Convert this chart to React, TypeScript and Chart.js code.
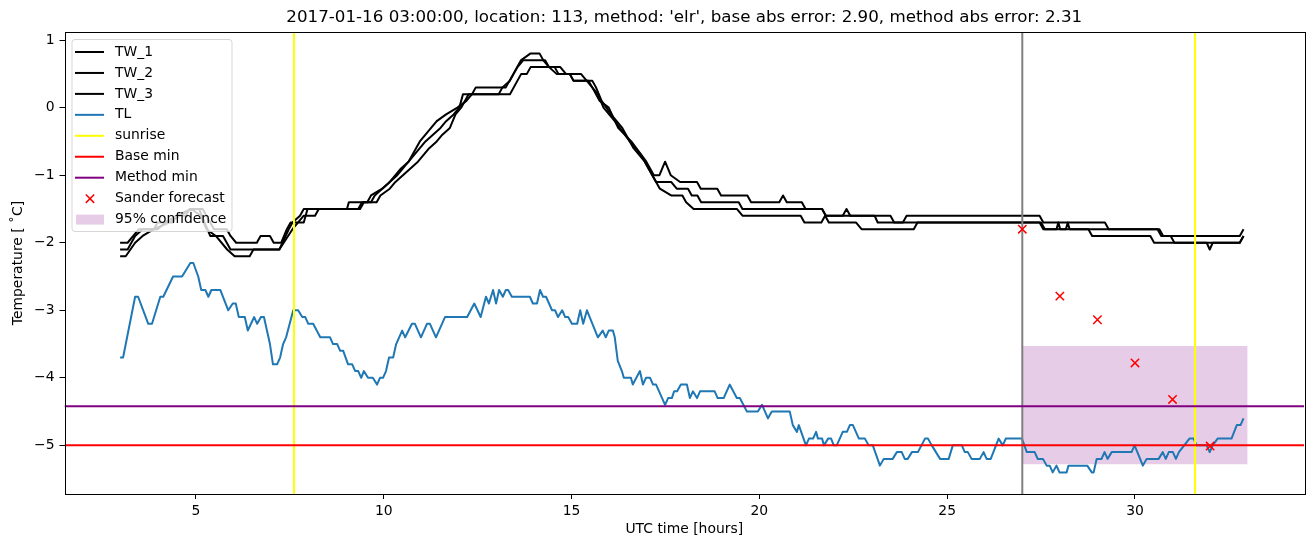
import React, { useEffect, useRef } from "react";
import { Chart, registerables } from "chart.js";

Chart.register(...registerables);

const titleText =
  "2017-01-16 03:00:00, location: 113, method: 'elr', base abs error: 2.90, method abs error: 2.31";
const xAxisTitle = "UTC time [hours]";
const yAxisTitle = "Temperature [ \u02DAC]";

const xTicks = [5, 10, 15, 20, 25, 30];
const yTicks = [1, 0, -1, -2, -3, -4, -5];
const xRange = [1.5, 34.5];
const yRange = [-5.72, 1.12];

const tlTimes = [
  2.98, 3.06, 3.38, 3.46, 3.73, 3.83, 4.05, 4.13, 4.39, 4.63,
  4.85, 4.93, 5.06, 5.14, 5.25, 5.33, 5.41, 5.65, 5.86, 5.98,
  6.06, 6.14, 6.3, 6.38, 6.55, 6.63, 6.73, 6.81, 6.97, 7.05,
  7.16, 7.24, 7.32, 7.4, 7.59, 7.72, 7.83, 7.91, 7.99, 8.12,
  8.31, 8.57, 8.65, 8.76, 8.84, 8.92, 9.05, 9.16, 9.24, 9.32,
  9.4, 9.47, 9.58, 9.71, 9.82, 9.9, 9.98, 10.06, 10.14, 10.25,
  10.33, 10.49, 10.57, 10.75, 10.83, 10.99, 11.15, 11.23, 11.39, 11.63,
  12.22, 12.41, 12.58, 12.72, 12.8, 12.91, 12.99, 13.07, 13.17, 13.25,
  13.31, 13.41, 13.89, 13.97, 14.08, 14.16, 14.24, 14.32, 14.48, 14.56,
  14.64, 14.75, 14.83, 14.91, 15.01, 15.15, 15.23, 15.31, 15.41, 15.7,
  15.83, 15.91, 15.99, 16.1, 16.15, 16.23, 16.34, 16.39, 16.58, 16.63,
  16.82, 16.9, 16.98, 17.09, 17.17, 17.25, 17.49, 17.57, 17.67, 17.73,
  17.81, 17.91, 18.07, 18.15, 18.23, 18.34, 18.42, 18.81, 18.89, 19.05,
  19.21, 19.4, 19.48, 19.67, 19.96, 20.07, 20.23, 20.33, 20.81, 20.89,
  21.0, 21.05, 21.24, 21.32, 21.43, 21.51, 21.56, 21.67, 21.72, 21.83,
  21.91, 21.98, 22.06, 22.22, 22.33, 22.41, 22.49, 22.65, 22.81, 22.91,
  23.02, 23.21, 23.31, 23.55, 23.66, 23.79, 23.87, 23.95, 24.06, 24.22,
  24.41, 24.49, 24.59, 24.81, 25.04, 25.15, 25.39, 25.47, 25.55, 25.65,
  25.87, 25.97, 26.05, 26.16, 26.37, 26.48, 26.56, 26.99, 27.12, 27.33,
  27.41, 27.55, 27.65, 27.73, 27.81, 27.91, 27.99, 28.18, 28.23, 28.73,
  28.85, 28.9, 28.98, 29.11, 29.19, 29.27, 29.38, 29.91, 29.99, 30.21,
  30.31, 30.63, 30.74, 30.82, 30.9, 31.01, 31.09, 31.17, 31.45, 31.56,
  31.64, 31.91, 31.99, 32.07, 32.2, 32.57, 32.71, 32.81, 32.89,
];
const tlValues = [
  -3.7, -3.7, -2.8, -2.8, -3.2, -3.2, -2.8, -2.8, -2.5, -2.5,
  -2.3, -2.3, -2.5, -2.7, -2.7, -2.8, -2.7, -2.7, -3.0, -2.9,
  -2.9, -3.1, -3.1, -3.3, -3.1, -3.2, -3.1, -3.1, -3.5, -3.8,
  -3.8, -3.7, -3.5, -3.4, -3.0, -3.0, -3.1, -3.1, -3.2, -3.2,
  -3.4, -3.4, -3.5, -3.5, -3.6, -3.6, -3.8, -3.8, -3.9, -3.9,
  -4.0, -3.9, -4.0, -4.0, -4.1, -4.0, -4.0, -3.9, -3.7, -3.7,
  -3.5, -3.3, -3.4, -3.2, -3.2, -3.4, -3.2, -3.2, -3.4, -3.1,
  -3.1, -2.9, -3.1, -2.8, -2.9, -2.7, -2.9, -2.7, -2.8, -2.7,
  -2.7, -2.8, -2.8, -2.9, -2.9, -2.7, -2.8, -2.8, -3.0, -3.0,
  -3.1, -3.0, -3.1, -3.1, -3.2, -3.2, -3.0, -3.2, -3.0, -3.4,
  -3.3, -3.4, -3.3, -3.3, -3.4, -3.75, -3.9, -4.0, -4.0, -4.1,
  -3.9, -4.1, -4.0, -4.0, -4.1, -4.1, -4.4, -4.3, -4.3, -4.2,
  -4.2, -4.1, -4.1, -4.3, -4.2, -4.3, -4.2, -4.2, -4.3, -4.3,
  -4.1, -4.3, -4.3, -4.5, -4.5, -4.4, -4.6, -4.5, -4.5, -4.7,
  -4.8, -4.7, -5.0, -4.9, -4.9, -4.8, -4.9, -4.9, -5.0, -4.9,
  -4.9, -5.0, -5.0, -4.8, -4.8, -4.7, -4.7, -4.9, -4.9, -5.0,
  -5.0, -5.3, -5.2, -5.2, -5.1, -5.1, -5.2, -5.2, -5.1, -5.1,
  -4.9, -4.9, -5.0, -5.2, -5.2, -5.0, -5.0, -5.1, -5.1, -5.2,
  -5.2, -5.1, -5.2, -5.2, -4.9, -5.0, -4.9, -4.9, -5.1, -5.1,
  -5.2, -5.2, -5.3, -5.3, -5.4, -5.3, -5.4, -5.4, -5.3, -5.3,
  -5.4, -5.4, -5.2, -5.2, -5.1, -5.2, -5.1, -5.1, -5.0, -5.3,
  -5.2, -5.2, -5.1, -5.2, -5.1, -5.1, -5.2, -5.1, -4.9, -4.9,
  -5.0, -5.0, -5.1, -5.0, -4.9, -4.9, -4.7, -4.7, -4.6,
];

const tw1Times = [
  2.98, 3.18, 3.33, 3.48, 3.88, 3.98, 4.38, 4.48, 4.73, 4.83,
  5.18, 5.28, 5.38, 5.48, 5.82, 5.92, 6.07, 6.62, 6.72, 6.97,
  7.07, 7.27, 7.42, 7.52, 7.87, 7.97, 9.02, 9.07, 9.56, 9.66,
  9.96, 10.16, 10.36, 10.51, 10.66, 10.76, 10.86, 10.96, 11.11, 11.26,
  11.41, 11.66, 11.96, 12.2, 12.35, 12.45, 13.25, 13.35, 13.55, 13.65,
  13.9, 14.15, 14.25, 14.4, 14.7, 14.85, 15.25, 15.4, 15.55, 15.75,
  15.99, 16.24, 16.59, 16.99, 17.19, 17.34, 17.49, 17.64, 17.89, 18.34,
  18.44, 18.88, 18.98, 19.68, 19.78, 20.53, 20.63, 20.73, 21.13, 21.23,
  21.67, 21.77, 22.22, 22.32, 22.42, 23.07, 23.15, 23.82, 23.92, 27.46,
  27.56, 29.2, 29.3, 30.65, 30.75, 32.79, 32.89,
];
const tw1Values = [
  -2.0, -2.0, -1.9, -1.8, -1.8, -1.7, -1.7, -1.6, -1.6, -1.5,
  -1.5, -1.6, -1.7, -1.8, -1.8, -1.9, -2.0, -2.0, -1.9, -1.9,
  -2.0, -2.0, -1.8, -1.7, -1.7, -1.5, -1.5, -1.4, -1.4, -1.3,
  -1.2, -1.1, -1.0, -0.9, -0.8, -0.7, -0.6, -0.5, -0.4, -0.3,
  -0.2, -0.1, 0.0, 0.1, 0.2, 0.3, 0.3, 0.4, 0.6, 0.7,
  0.8, 0.8, 0.7, 0.6, 0.6, 0.5, 0.5, 0.4, 0.3, 0.1,
  0.0, -0.3, -0.5, -0.8, -1.0, -1.0, -0.8, -1.0, -1.1, -1.1,
  -1.2, -1.2, -1.3, -1.3, -1.4, -1.4, -1.3, -1.4, -1.4, -1.5,
  -1.5, -1.6, -1.6, -1.5, -1.6, -1.6, -1.7, -1.7, -1.6, -1.6,
  -1.7, -1.7, -1.8, -1.8, -1.9, -1.9, -1.8,
];

const tw2Times = [
  2.98, 3.18, 3.38, 3.58, 3.98, 4.18, 4.48, 4.88, 5.08, 5.23,
  5.38, 5.72, 5.82, 5.92, 7.22, 7.47, 7.57, 7.77, 7.87, 9.32,
  9.42, 9.66, 9.76, 9.96, 10.16, 10.31, 10.46, 10.66, 10.81, 10.96,
  11.11, 11.31, 11.51, 11.66, 11.86, 12.01, 12.11, 13.06, 13.16, 13.36,
  13.46, 13.56, 13.71, 14.3, 14.4, 14.6, 14.95, 15.05, 15.45, 15.55,
  15.7, 15.85, 16.15, 16.55, 16.85, 17.15, 17.25, 17.65, 17.8, 18.1,
  18.2, 18.35, 18.45, 19.45, 19.55, 21.67, 21.77, 23.49, 23.59, 27.5,
  27.6, 30.6, 30.7, 30.95, 31.05, 32.79, 32.89,
];
const tw2Values = [
  -2.1, -2.1, -1.9, -1.8, -1.8, -1.7, -1.6, -1.5, -1.5, -1.7,
  -1.9, -1.9, -2.0, -2.1, -2.1, -1.8, -1.7, -1.6, -1.5, -1.5,
  -1.4, -1.4, -1.3, -1.2, -1.1, -1.0, -0.9, -0.8, -0.7, -0.6,
  -0.5, -0.4, -0.3, -0.2, -0.1, 0.0, 0.2, 0.2, 0.3, 0.4,
  0.5, 0.6, 0.7, 0.7, 0.6, 0.5, 0.5, 0.4, 0.4, 0.3,
  0.2, 0.0, -0.2, -0.5, -0.7, -1.0, -1.1, -1.1, -1.2, -1.2,
  -1.3, -1.3, -1.4, -1.4, -1.5, -1.5, -1.6, -1.6, -1.7, -1.7,
  -1.8, -1.8, -1.9, -1.9, -2.0, -2.0, -1.9,
];

const tw3Times = [
  2.98, 3.13, 3.38, 3.58, 3.88, 4.28, 4.58, 4.88, 5.13, 5.28,
  5.53, 5.83, 6.03, 6.43, 6.53, 7.22, 7.57, 7.72, 7.87, 8.17,
  8.27, 9.37, 9.47, 9.81, 9.91, 10.16, 10.31, 10.51, 10.71, 10.91,
  11.06, 11.21, 11.41, 11.56, 11.76, 11.91, 12.06, 12.26, 13.36, 13.56,
  13.66, 13.81, 13.91, 14.55, 14.65, 14.95, 15.05, 15.55, 15.65, 15.8,
  16.05, 16.35, 16.65, 16.95, 17.25, 17.35, 17.65, 17.95, 18.05, 18.25,
  19.4, 19.55, 21.1, 21.2, 21.65, 21.75, 21.85, 22.57, 22.72, 24.11,
  24.21, 27.46, 27.56, 27.91, 27.96, 28.01, 28.16, 28.21, 28.26, 28.76,
  28.86, 30.41, 30.51, 31.91, 31.99, 32.07, 32.79, 32.89,
];
const tw3Values = [
  -2.2, -2.2, -2.0, -1.9, -1.8, -1.7, -1.6, -1.5, -1.6, -1.8,
  -1.9, -2.1, -2.2, -2.2, -2.1, -2.1, -1.8, -1.7, -1.6, -1.6,
  -1.5, -1.5, -1.4, -1.4, -1.3, -1.2, -1.1, -1.0, -0.9, -0.8,
  -0.7, -0.6, -0.5, -0.4, -0.3, -0.1, 0.0, 0.2, 0.2, 0.4,
  0.5, 0.5, 0.6, 0.6, 0.5, 0.5, 0.4, 0.4, 0.3, 0.1,
  -0.1, -0.3, -0.6, -0.8, -1.1, -1.2, -1.3, -1.3, -1.4, -1.5,
  -1.5, -1.6, -1.6, -1.7, -1.7, -1.6, -1.7, -1.7, -1.8, -1.8,
  -1.7, -1.7, -1.8, -1.8, -1.7, -1.8, -1.8, -1.7, -1.8, -1.8,
  -1.9, -1.9, -2.0, -2.0, -2.1, -2.0, -2.0, -1.9,
];

const sunriseTimes = [7.61, 31.6];
const forecastTime = 27.0;
const baseMin = -5.0;
const methodMin = -4.42;
const sanderTimes = [27, 28, 29, 30, 31, 32];
const sanderValues = [-1.8, -2.79, -3.14, -3.78, -4.32, -5.01];
const confTimes = [27, 33];
const confUpper = -3.53;
const confLower = -5.28;

const legendLabels = [
  "TW_1", "TW_2", "TW_3", "TL", "sunrise", "Base min", "Method min",
  "Sander forecast", "95% confidence",
];

const FONT = "'DejaVu Sans', sans-serif";
const C_TL = "#1f77b4";
const C_CONF = "rgba(128,0,128,0.2)";

const pts = (xs: number[], ys: number[]) => xs.map((x, i) => ({ x, y: ys[i] }));

export default function App() {
  const ref = useRef<HTMLCanvasElement>(null);
  useEffect(() => {
    document.body.style.margin = "0";
    const canvas = ref.current!;
    const lineBase = {
      type: "line" as const,
      pointRadius: 0,
      borderWidth: 2,
      tension: 0,
      fill: false,
      borderJoinStyle: "round" as const,
      borderCapStyle: "butt" as const,
    };
    const vline = (x: number) => [
      { x, y: yRange[0] },
      { x, y: yRange[1] },
    ];
    const hline = (y: number) => [
      { x: xRange[0], y },
      { x: xRange[1], y },
    ];
    const sunriseData: any[] = [];
    sunriseTimes.forEach((t, i) => {
      if (i > 0) sunriseData.push({ x: t, y: null });
      sunriseData.push(...vline(t));
    });

    const overlay = {
      id: "overlay",
      afterDatasetsDraw(chart: any) {
        const { ctx, chartArea: a } = chart;
        ctx.save();
        ctx.strokeStyle = "#000";
        ctx.lineWidth = 1;
        ctx.strokeRect(Math.round(a.left) + 0.5, Math.round(a.top) + 0.5,
          Math.round(a.right - a.left), Math.round(a.bottom - a.top));
        ctx.restore();
      },
      afterDraw(chart: any) {
        const { ctx, chartArea: a } = chart;
        ctx.save();
        ctx.fillStyle = "#000";
        ctx.textAlign = "center";
        ctx.textBaseline = "middle";
        ctx.font = `16.7px ${FONT}`;
        ctx.fillText(titleText, (a.left + a.right) / 2, 17.5);
        ctx.font = `13.9px ${FONT}`;
        ctx.fillText(xAxisTitle, (a.left + a.right) / 2, 529);
        ctx.save();
        ctx.translate(18, (a.top + a.bottom) / 2);
        ctx.rotate(-Math.PI / 2);
        ctx.fillText(yAxisTitle, 0, 0);
        ctx.restore();

        // legend
        const bx = a.left + 7.5, by = a.top + 7.5, bw = 160, bh = 192;
        ctx.fillStyle = "rgba(255,255,255,0.8)";
        ctx.strokeStyle = "rgba(204,204,204,0.8)";
        ctx.lineWidth = 1;
        ctx.beginPath();
        (ctx as any).roundRect(bx, by, bw, bh, 3);
        ctx.fill();
        ctx.stroke();
        const colors = ["#000", "#000", "#000", C_TL, "#ffff00", "#ff0000", "#800080"];
        ctx.font = `13.9px ${FONT}`;
        ctx.textAlign = "left";
        legendLabels.forEach((lab, i) => {
          const y = 52 + i * 20.95;
          if (i < 7) {
            ctx.strokeStyle = colors[i];
            ctx.lineWidth = 2;
            ctx.beginPath();
            ctx.moveTo(75, y);
            ctx.lineTo(104, y);
            ctx.stroke();
          } else if (i === 7) {
            ctx.strokeStyle = "#ff0000";
            ctx.lineWidth = 1.5;
            const r = 4.2;
            ctx.beginPath();
            ctx.moveTo(90 - r, y - r);
            ctx.lineTo(90 + r, y + r);
            ctx.moveTo(90 - r, y + r);
            ctx.lineTo(90 + r, y - r);
            ctx.stroke();
          } else {
            ctx.fillStyle = C_CONF;
            ctx.fillRect(76, y - 5, 28, 10);
          }
          ctx.fillStyle = "#000";
          ctx.fillText(lab, 115, y);
        });
        ctx.restore();
      },
    };

    const chart = new Chart(canvas, {
      type: "line",
      data: {
        datasets: [
          {
            ...lineBase, label: "Sander forecast", data: pts(sanderTimes, sanderValues),
            showLine: false, pointStyle: "crossRot", pointRadius: 5.9,
            pointBorderColor: "#ff0000", pointBackgroundColor: "#ff0000",
            pointBorderWidth: 1.5, borderColor: "#ff0000", order: 50,
          } as any,
          { ...lineBase, label: "Method min", data: hline(methodMin), borderColor: "#800080", order: 59 },
          { ...lineBase, label: "Base min", data: hline(baseMin), borderColor: "#ff0000", order: 60 },
          { ...lineBase, label: "forecast", data: vline(forecastTime), borderColor: "#808080", order: 69 },
          { ...lineBase, label: "sunrise", data: sunriseData, borderColor: "#ffff00", spanGaps: false, order: 70 },
          { ...lineBase, label: "TL", data: pts(tlTimes, tlValues), borderColor: C_TL, order: 80 },
          { ...lineBase, label: "TW_3", data: pts(tw3Times, tw3Values), borderColor: "#000", order: 88 },
          { ...lineBase, label: "TW_2", data: pts(tw2Times, tw2Values), borderColor: "#000", order: 89 },
          { ...lineBase, label: "TW_1", data: pts(tw1Times, tw1Values), borderColor: "#000", order: 90 },
          {
            ...lineBase, label: "95% confidence",
            data: confTimes.map((x) => ({ x, y: confUpper })),
            borderWidth: 0, borderColor: "rgba(0,0,0,0)",
            backgroundColor: C_CONF, fill: { value: confLower }, order: 100,
          } as any,
        ],
      },
      options: {
        responsive: false,
        animation: false,
        events: [],
        layout: { padding: { top: 32, right: 9, left: 0, bottom: 0 } },
        plugins: {
          legend: { display: false },
          title: { display: false },
          tooltip: { enabled: false },
        },
        scales: {
          x: {
            type: "linear",
            min: xRange[0],
            max: xRange[1],
            afterBuildTicks: (s: any) => { s.ticks = xTicks.map((v) => ({ value: v })); },
            afterFit: (s: any) => { s.height = 53; },
            grid: { drawOnChartArea: false, drawTicks: true, tickLength: 5, color: "#000", lineWidth: 1 },
            border: { display: false },
            ticks: {
              color: "#000", font: { family: FONT, size: 13.9 }, padding: 4,
              maxRotation: 0, autoSkip: false,
              callback: (v: any) => String(v),
            },
          },
          y: {
            type: "linear",
            min: yRange[0],
            max: yRange[1],
            afterBuildTicks: (s: any) => { s.ticks = yTicks.map((v) => ({ value: v })); },
            afterFit: (s: any) => { s.width = 64.5; },
            grid: { drawOnChartArea: false, drawTicks: true, tickLength: 5, color: "#000", lineWidth: 1 },
            border: { display: false },
            ticks: {
              color: "#000", font: { family: FONT, size: 13.9 }, padding: 5,
              autoSkip: false,
              callback: (v: any) => String(v).replace("-", "\u2212"),
            },
          },
        },
      },
      plugins: [overlay],
    });
    return () => chart.destroy();
  }, []);
  return (
    <div style={{ width: 1313, height: 547 }}>
      <canvas ref={ref} width={1313} height={547} style={{ display: "block" }} />
    </div>
  );
}
